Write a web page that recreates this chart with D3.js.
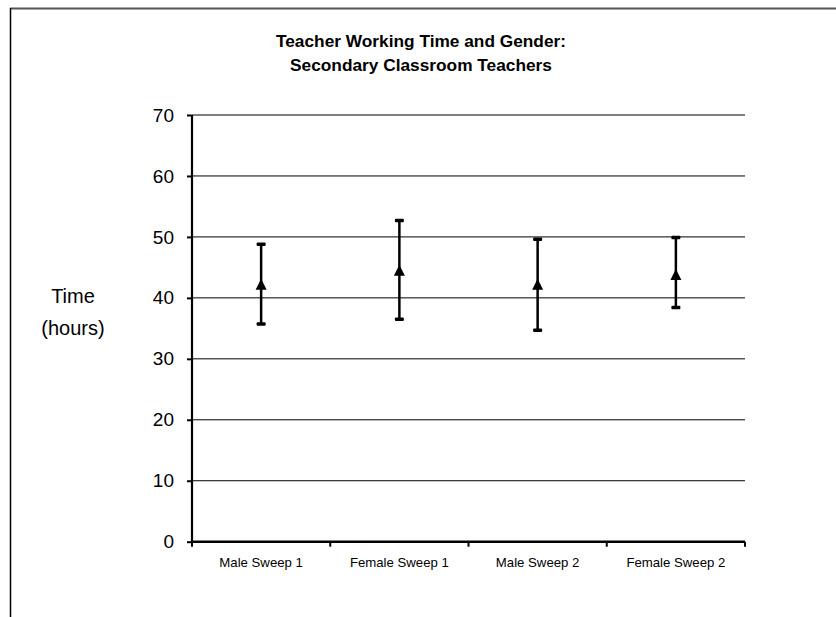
<!DOCTYPE html>
<html>
<head>
<meta charset="utf-8">
<script src="https://cdn.jsdelivr.net/npm/d3@7"></script>
<style>
  html, body { margin: 0; padding: 0; background: #fff; }
  svg { display: block; font-family: "Liberation Sans", Arial, sans-serif; }
</style>
</head>
<body>
<svg id="chart" width="836" height="617"></svg>
<script>
// Working hours per group: low end, mean, high end
const categories = ["Male Sweep 1", "Female Sweep 1", "Male Sweep 2", "Female Sweep 2"];
const lowValues  = [35.7, 36.5, 34.7, 38.4];
const meanValues = [42.0, 44.3, 42.0, 43.6];
const highValues = [48.8, 52.7, 49.6, 49.9];
const yTicks = [0, 10, 20, 30, 40, 50, 60, 70];
const titleLines = ["Teacher Working Time and Gender:", "Secondary Classroom Teachers"];
const yLabelLines = ["Time", "(hours)"];

const svg = d3.select("#chart");
const plot = { left: 192, right: 745, top: 115, bottom: 541.7 };

// Frame lines around the chart area
svg.append("line").attr("x1", 10).attr("x2", 836).attr("y1", 8.5).attr("y2", 8.5)
  .attr("stroke", "#555").attr("stroke-width", 2);
svg.append("line").attr("x1", 10.5).attr("x2", 10.5).attr("y1", 8).attr("y2", 617)
  .attr("stroke", "#000").attr("stroke-width", 1.5);

const x = d3.scaleBand().domain(categories).range([plot.left, plot.right]).padding(0);
const y = d3.scaleLinear().domain([0, 70]).range([plot.bottom, plot.top]);

// Horizontal gridlines
svg.append("g").selectAll("line").data(yTicks.filter(d => d > 0)).join("line")
  .attr("x1", plot.left).attr("x2", plot.right)
  .attr("y1", d => y(d)).attr("y2", d => y(d))
  .attr("stroke", "#000").attr("stroke-width", 1);

// Y axis
const yAxis = svg.append("g").attr("transform", `translate(${plot.left},0)`)
  .call(d3.axisLeft(y).tickValues(yTicks).tickSize(5).tickPadding(13).tickFormat(d3.format("d")));
yAxis.select(".domain").attr("stroke", "#000").attr("stroke-width", 2.2)
  .attr("d", `M0,${plot.top}V${plot.bottom}`);
yAxis.selectAll(".tick line").attr("stroke", "#000").attr("stroke-width", 2);
yAxis.selectAll(".tick text").attr("font-size", 19).attr("fill", "#000")
  .attr("font-family", "'Liberation Sans', Arial, sans-serif");

// X axis with ticks at category boundaries
const xAxisG = svg.append("g").attr("transform", `translate(0,${plot.bottom})`);
xAxisG.append("line").attr("x1", plot.left).attr("x2", plot.right)
  .attr("stroke", "#000").attr("stroke-width", 2.5);
const boundaries = categories.map(c => x(c)).concat([x(categories[categories.length - 1]) + x.bandwidth()]);
xAxisG.selectAll(".bt").data(boundaries).join("line").attr("class", "bt")
  .attr("x1", d => d).attr("x2", d => d).attr("y1", 0).attr("y2", 5)
  .attr("stroke", "#000").attr("stroke-width", 2);
xAxisG.selectAll("text").data(categories).join("text")
  .attr("x", d => x(d) + x.bandwidth() / 2).attr("y", 25.5)
  .attr("text-anchor", "middle").attr("font-size", 13.2).attr("fill", "#000")
  .text(d => d);

// Error bars with triangle markers at the mean
const bars = svg.append("g");
categories.forEach((c, i) => {
  const cx = x(c) + x.bandwidth() / 2;
  bars.append("line").attr("x1", cx).attr("x2", cx)
    .attr("y1", y(highValues[i])).attr("y2", y(lowValues[i]))
    .attr("stroke", "#000").attr("stroke-width", 2.5);
  [highValues[i], lowValues[i]].forEach(v => {
    bars.append("rect").attr("x", cx - 4.5).attr("y", y(v) - 1.75)
      .attr("width", 9).attr("height", 3.5).attr("rx", 1).attr("fill", "#000");
  });
  const my = y(meanValues[i]);
  bars.append("path")
    .attr("d", `M${cx},${my - 7}L${cx + 5.5},${my + 4}L${cx - 5.5},${my + 4}Z`)
    .attr("fill", "#000");
});

// Title
svg.append("text").attr("x", 421).attr("y", 47).attr("text-anchor", "middle")
  .attr("font-size", 17.3).attr("font-weight", "bold").attr("fill", "#000")
  .selectAll("tspan").data(titleLines).join("tspan")
  .attr("x", 421).attr("dy", (d, i) => i === 0 ? 0 : 24).text(d => d);

// Y axis label
svg.append("text").attr("x", 73).attr("y", 303).attr("text-anchor", "middle")
  .attr("font-size", 20).attr("fill", "#000")
  .selectAll("tspan").data(yLabelLines).join("tspan")
  .attr("x", 73).attr("dy", (d, i) => i === 0 ? 0 : 32).text(d => d);
</script>
</body>
</html>
